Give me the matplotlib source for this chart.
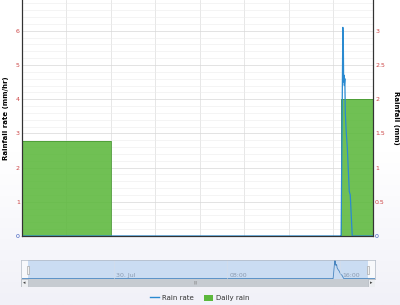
import numpy as np
import pandas as pd
import matplotlib
matplotlib.use("Agg")
import matplotlib.pyplot as plt
import matplotlib.dates as mdates
from matplotlib.lines import Line2D
from matplotlib.patches import Patch, Rectangle

# daily rain (mm), stepped, right axis
rain_times = ["2023-07-29 18:00", "2023-07-30 00:00", "2023-07-30 15:31", "2023-07-30 17:40"]
rain_mm = [1.39, 0.0, 2.0, 2.0]

# rain rate (mm/hr), left axis
rate_times = ["2023-07-29 17:30:00", "2023-07-30 15:30:00", "2023-07-30 15:31:00",
              "2023-07-30 15:38:00", "2023-07-30 15:38:30", "2023-07-30 15:39:00", "2023-07-30 15:39:30",
              "2023-07-30 15:40:00", "2023-07-30 15:41:00", "2023-07-30 15:42:00", "2023-07-30 15:43:00",
              "2023-07-30 15:44:00", "2023-07-30 15:46:00", "2023-07-30 15:48:00", "2023-07-30 15:52:00",
              "2023-07-30 15:56:00", "2023-07-30 16:04:00", "2023-07-30 16:08:00", "2023-07-30 16:16:00",
              "2023-07-30 18:30:00"]
rate_mmhr = [0, 0, 0, 6.1, 4.8, 6.0, 4.9, 5.6, 4.7, 4.5, 4.7, 4.4, 4.6, 3.6, 3.0,
             2.6, 1.3, 1.2, 0, 0]

left_ticks = [0, 1, 2, 3, 4, 5, 6]
right_ticks = [0, 0.5, 1, 1.5, 2, 2.5, 3]

rt = pd.to_datetime(rain_times, format="ISO8601")
tt = pd.to_datetime(rate_times, format="ISO8601")

W, H = 400, 305
fig = plt.figure(figsize=(4, 3.05), dpi=100)

# background gradient
bg = fig.add_axes([0, 0, 1, 1], zorder=-10)
grad = np.linspace(0, 1, 200).reshape(-1, 1)
cmap = matplotlib.colors.LinearSegmentedColormap.from_list("bg", ["#ffffff", "#ffffff", "#f1f1f8"])
bg.imshow(grad, aspect="auto", cmap=cmap, extent=[0, 1, 0, 1])
bg.axis("off")

def fx(px): return px / W
def fy(py): return 1 - py / H

# main chart
ax2 = fig.add_axes([fx(22), fy(236), fx(373) - fx(22), fy(0) - fy(236)])
ax = ax2.twinx()
ax.yaxis.tick_left()
ax.yaxis.set_label_position("left")
ax2.yaxis.tick_right()
ax2.yaxis.set_label_position("right")
ax.set_zorder(ax2.get_zorder() + 1)
ax.patch.set_visible(False)
ax2.set_facecolor("white")
ax2.set_axisbelow(True)

x0 = pd.Timestamp("2023-07-29 18:00")
x1 = pd.Timestamp("2023-07-30 17:40")

ax2.fill_between(rt, rain_mm, step="post", color="#5cb83c", alpha=0.88, lw=0)
ax2.step(rt, rain_mm, where="post", color="#4a9a34", lw=0.6)
ax.plot(tt, rate_mmhr, color="#2a8ad0", lw=0.9)

ax.set_ylim(0, 6.9)
ax2.set_ylim(0, 3.45)
ax.set_xlim(x0, x1)
ax2.set_xlim(x0, x1)

ax.set_yticks(left_ticks)
ax2.set_yticks(right_ticks)
ax2.set_yticks(np.arange(0, 3.45, 0.1), minor=True)
ax2.yaxis.set_major_formatter(plt.FuncFormatter(lambda v, p: f"{v:g}"))
ax2.grid(True, which="major", axis="y", color="#d8d8d8", lw=0.5)
ax2.grid(True, which="minor", axis="y", color="#ececec", lw=0.4)
ax2.grid(True, which="major", axis="x", color="#dddddd", lw=0.5)

hours = mdates.HourLocator(byhour=range(0, 24, 3))
ax.xaxis.set_major_locator(hours)
ax2.xaxis.set_major_locator(hours)
def fmt(v, pos):
    d = mdates.num2date(v)
    return d.strftime("%d %b") if d.hour == 0 else d.strftime("%H:%M")
ax.xaxis.set_major_formatter(plt.FuncFormatter(fmt))
ax2.xaxis.set_major_formatter(plt.FuncFormatter(fmt))

for a in (ax, ax2):
    a.tick_params(axis="both", which="both", length=2, width=0.5, labelsize=4.5, pad=1.5, colors="#444444")
    a.tick_params(axis="y", which="minor", length=0)
    for s in a.spines.values():
        s.set_color("#333333")
        s.set_linewidth(0.8)
    a.spines["top"].set_visible(False)
ax2.tick_params(axis="x", labelbottom=False, length=0)

for lab, v in zip(ax.get_yticklabels(), left_ticks):
    lab.set_color("#3355bb" if v == 0 else "#cc4444")
for lab, v in zip(ax2.get_yticklabels(), right_ticks):
    lab.set_color("#3355bb" if v == 0 else "#cc4444")
ax.tick_params(axis="y", length=0)
ax2.tick_params(axis="y", length=0)

ax.set_ylabel("Rainfall rate (mm/hr)", fontsize=5, fontweight="bold", labelpad=5)
ax2.set_ylabel("Rainfall (mm)", fontsize=5, fontweight="bold", rotation=-90, labelpad=10)

# navigator
nav0 = pd.Timestamp("2023-07-29 17:24")
nav1 = pd.Timestamp("2023-07-30 18:29")
sel0 = pd.Timestamp("2023-07-29 17:54")
sel1 = pd.Timestamp("2023-07-30 17:58")

nav = fig.add_axes([fx(21), fy(279), fx(375) - fx(21), fy(260) - fy(279)])
nav.set_facecolor("#f7f8fb")
nav.axvspan(sel0, sel1, color="#cadcf2", lw=0)
nav.plot(tt, rate_mmhr, color="#4a86c0", lw=0.6)
nav.set_xlim(nav0, nav1)
nav.set_ylim(-0.15, 6.2)
for t, label in [("2023-07-30 00:00", "30. Jul"), ("2023-07-30 08:00", "08:00"), ("2023-07-30 16:00", "16:00")]:
    ts = pd.Timestamp(t)
    nav.axvline(ts, color="#d6dde8", lw=0.4)
    nav.text(ts + pd.Timedelta(minutes=10), 0.2, label, fontsize=4.5, color="#8a9ab0", va="bottom", ha="left")
nav.set_xticks([])
nav.set_yticks([])
for s in nav.spines.values():
    s.set_color("#b0b8c4")
    s.set_linewidth(0.5)
for ts in (sel0, sel1):
    nav.add_patch(Rectangle((mdates.date2num(ts) - 0.0025, 1.5), 0.005, 2.6, facecolor="#f2f2f2",
                            edgecolor="#999999", lw=0.4, zorder=5))

# scrollbar
sb = fig.add_axes([fx(21), fy(287), fx(375) - fx(21), fy(279) - fy(287)])
sb.set_facecolor("#c6cbd1")
sb.set_xlim(0, 354)
sb.set_ylim(0, 8)
sb.add_patch(Rectangle((0, 0), 7, 8, facecolor="#eceef1", edgecolor="#aab0b8", lw=0.4))
sb.add_patch(Rectangle((347, 0), 7, 8, facecolor="#eceef1", edgecolor="#aab0b8", lw=0.4))
sb.text(3.5, 4, "◂", fontsize=3.5, ha="center", va="center", color="#444")
sb.text(350.5, 4, "▸", fontsize=3.5, ha="center", va="center", color="#444")
sb.text(175, 4, "|||", fontsize=3, ha="center", va="center", color="#777")
sb.set_xticks([])
sb.set_yticks([])
for s in sb.spines.values():
    s.set_visible(False)

# legend
handles = [Line2D([], [], color="#2a8ad0", lw=1), Patch(facecolor="#5cb83c", edgecolor="none")]
fig.legend(handles, ["Rain rate", "Daily rain"], loc="center", bbox_to_anchor=(0.5, fy(298)),
           ncol=2, frameon=False, fontsize=5, handlelength=1.2, handleheight=0.9,
           columnspacing=1.5, handletextpad=0.5, labelcolor="#333333")

fig.savefig("out.png", dpi=100)
